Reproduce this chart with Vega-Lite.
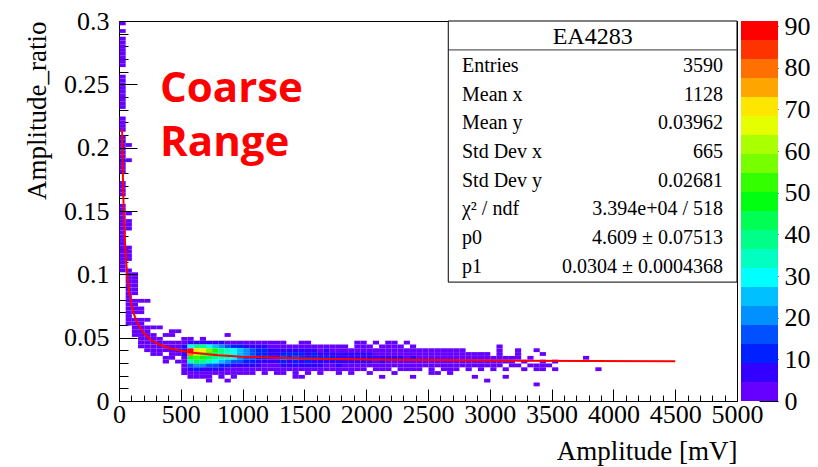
{
  "$schema": "https://vega.github.io/schema/vega-lite/v6.json",
  "background": "white",
  "padding": {"left": 22, "top": 7, "right": 2, "bottom": 2},
  "spacing": 4,
  "bounds": "flush",
  "config": {
    "view": {"stroke": null},
    "font": "Liberation Serif",
    "text": {"font": "Liberation Serif", "color": "#000"}
  },
  "hconcat": [
    {
      "width": 618,
      "height": 380,
      "view": {"stroke": "#000", "strokeWidth": 1},
      "layer": [
        {
          "data": {"values": [
            {"amp":25,"ratio":0.2985,"n":3},{"amp":25,"ratio":0.2925,"n":1},{"amp":25,"ratio":0.2865,"n":4},{"amp":25,"ratio":0.2835,"n":3},
            {"amp":25,"ratio":0.2805,"n":4},{"amp":25,"ratio":0.2775,"n":3},{"amp":25,"ratio":0.2745,"n":2},{"amp":25,"ratio":0.2715,"n":3},
            {"amp":25,"ratio":0.2685,"n":4},{"amp":25,"ratio":0.2655,"n":2},{"amp":25,"ratio":0.2565,"n":3},{"amp":25,"ratio":0.2535,"n":4},
            {"amp":25,"ratio":0.2505,"n":3},{"amp":25,"ratio":0.2475,"n":4},{"amp":25,"ratio":0.2445,"n":3},{"amp":25,"ratio":0.2415,"n":2},
            {"amp":25,"ratio":0.2385,"n":3},{"amp":25,"ratio":0.2355,"n":4},{"amp":25,"ratio":0.2325,"n":2},{"amp":25,"ratio":0.2235,"n":3},
            {"amp":25,"ratio":0.2205,"n":4},{"amp":25,"ratio":0.2175,"n":3},{"amp":25,"ratio":0.2145,"n":2},{"amp":25,"ratio":0.2085,"n":4},
            {"amp":25,"ratio":0.2055,"n":5},{"amp":25,"ratio":0.2025,"n":3},{"amp":25,"ratio":0.1995,"n":4},{"amp":25,"ratio":0.1965,"n":3},
            {"amp":25,"ratio":0.1935,"n":4},{"amp":25,"ratio":0.1905,"n":5},{"amp":25,"ratio":0.1875,"n":3},{"amp":25,"ratio":0.1845,"n":4},
            {"amp":25,"ratio":0.1815,"n":2},{"amp":25,"ratio":0.1725,"n":3},{"amp":25,"ratio":0.1695,"n":4},{"amp":25,"ratio":0.1665,"n":3},
            {"amp":25,"ratio":0.1635,"n":2},{"amp":25,"ratio":0.1545,"n":3},{"amp":25,"ratio":0.1515,"n":4},{"amp":25,"ratio":0.1485,"n":3},
            {"amp":25,"ratio":0.1455,"n":2},{"amp":25,"ratio":0.1425,"n":3},{"amp":25,"ratio":0.1395,"n":4},{"amp":25,"ratio":0.1365,"n":3},
            {"amp":25,"ratio":0.1335,"n":2},{"amp":25,"ratio":0.1305,"n":4},{"amp":25,"ratio":0.1275,"n":3},{"amp":25,"ratio":0.1245,"n":2},
            {"amp":25,"ratio":0.1215,"n":3},{"amp":25,"ratio":0.1185,"n":4},{"amp":25,"ratio":0.1155,"n":3},{"amp":25,"ratio":0.1125,"n":2},
            {"amp":25,"ratio":0.1095,"n":3},{"amp":25,"ratio":0.1065,"n":2},{"amp":25,"ratio":0.1035,"n":3},

            {"amp":75,"ratio":0.2025,"n":3},{"amp":75,"ratio":0.1905,"n":4},{"amp":75,"ratio":0.1485,"n":2},{"amp":75,"ratio":0.1425,"n":2},
            {"amp":75,"ratio":0.1395,"n":3},{"amp":75,"ratio":0.1365,"n":2},{"amp":75,"ratio":0.1215,"n":2},{"amp":75,"ratio":0.1185,"n":3},
            {"amp":75,"ratio":0.1155,"n":2},{"amp":75,"ratio":0.1125,"n":2},{"amp":75,"ratio":0.1035,"n":3},{"amp":75,"ratio":0.1005,"n":4},
            {"amp":75,"ratio":0.0975,"n":3},{"amp":75,"ratio":0.0945,"n":4},{"amp":75,"ratio":0.0915,"n":3},{"amp":75,"ratio":0.0885,"n":2},
            {"amp":75,"ratio":0.0855,"n":3},{"amp":75,"ratio":0.0825,"n":2},{"amp":75,"ratio":0.0795,"n":3},{"amp":75,"ratio":0.0765,"n":4},
            {"amp":75,"ratio":0.0735,"n":3},{"amp":75,"ratio":0.0705,"n":2},{"amp":75,"ratio":0.0675,"n":3},{"amp":75,"ratio":0.0645,"n":2},
            {"amp":75,"ratio":0.0615,"n":2},

            {"amp":125,"ratio":0.1005,"n":2},{"amp":125,"ratio":0.0975,"n":3},{"amp":125,"ratio":0.0945,"n":2},{"amp":125,"ratio":0.0915,"n":3},
            {"amp":125,"ratio":0.0885,"n":4},{"amp":125,"ratio":0.0855,"n":3},{"amp":125,"ratio":0.0795,"n":3},{"amp":125,"ratio":0.0765,"n":2},
            {"amp":125,"ratio":0.0735,"n":3},{"amp":125,"ratio":0.0705,"n":2},{"amp":125,"ratio":0.0645,"n":2},{"amp":125,"ratio":0.0615,"n":3},
            {"amp":125,"ratio":0.0585,"n":2},{"amp":125,"ratio":0.0555,"n":3},{"amp":125,"ratio":0.0525,"n":2},

            {"amp":175,"ratio":0.0795,"n":2},{"amp":175,"ratio":0.0735,"n":2},{"amp":175,"ratio":0.0705,"n":3},{"amp":175,"ratio":0.0645,"n":3},
            {"amp":175,"ratio":0.0615,"n":3},{"amp":175,"ratio":0.0585,"n":2},{"amp":175,"ratio":0.0555,"n":3},{"amp":175,"ratio":0.0525,"n":2},
            {"amp":175,"ratio":0.0495,"n":3},{"amp":175,"ratio":0.0465,"n":2},{"amp":175,"ratio":0.0435,"n":2},

            {"amp":225,"ratio":0.0795,"n":2},{"amp":225,"ratio":0.0645,"n":2},{"amp":225,"ratio":0.0585,"n":3},{"amp":225,"ratio":0.0555,"n":3},
            {"amp":225,"ratio":0.0525,"n":4},{"amp":225,"ratio":0.0495,"n":3},{"amp":225,"ratio":0.0465,"n":4},{"amp":225,"ratio":0.0435,"n":3},
            {"amp":225,"ratio":0.0405,"n":2},

            {"amp":275,"ratio":0.0585,"n":2},{"amp":275,"ratio":0.0525,"n":3},{"amp":275,"ratio":0.0495,"n":3},{"amp":275,"ratio":0.0465,"n":3},
            {"amp":275,"ratio":0.0435,"n":4},{"amp":275,"ratio":0.0405,"n":3},{"amp":275,"ratio":0.0375,"n":2},

            {"amp":325,"ratio":0.0585,"n":2},{"amp":325,"ratio":0.0495,"n":3},{"amp":325,"ratio":0.0465,"n":4},{"amp":325,"ratio":0.0435,"n":3},
            {"amp":325,"ratio":0.0405,"n":3},{"amp":325,"ratio":0.0375,"n":2},

            {"amp":375,"ratio":0.0525,"n":2},{"amp":375,"ratio":0.0465,"n":3},{"amp":375,"ratio":0.0435,"n":3},{"amp":375,"ratio":0.0405,"n":4},
            {"amp":375,"ratio":0.0345,"n":2},{"amp":375,"ratio":0.0315,"n":2},

            {"amp":425,"ratio":0.0555,"n":2},{"amp":425,"ratio":0.0525,"n":3},{"amp":425,"ratio":0.0465,"n":3},{"amp":425,"ratio":0.0435,"n":4},
            {"amp":425,"ratio":0.0405,"n":4},{"amp":425,"ratio":0.0375,"n":3},{"amp":425,"ratio":0.0345,"n":2},

            {"amp":475,"ratio":0.0555,"n":2},{"amp":475,"ratio":0.0465,"n":3},{"amp":475,"ratio":0.0435,"n":4},{"amp":475,"ratio":0.0405,"n":5},
            {"amp":475,"ratio":0.0375,"n":3},{"amp":475,"ratio":0.0315,"n":2},

            {"amp":525,"ratio":0.0495,"n":2},{"amp":525,"ratio":0.0465,"n":4},{"amp":525,"ratio":0.0435,"n":5},{"amp":525,"ratio":0.0405,"n":6},
            {"amp":525,"ratio":0.0375,"n":5},{"amp":525,"ratio":0.0345,"n":4},{"amp":525,"ratio":0.0315,"n":3},{"amp":525,"ratio":0.0285,"n":3},
            {"amp":525,"ratio":0.0255,"n":2},{"amp":525,"ratio":0.0225,"n":2},

            {"amp":575,"ratio":0.0495,"n":2},{"amp":575,"ratio":0.0465,"n":6},{"amp":575,"ratio":0.0435,"n":28},{"amp":575,"ratio":0.0405,"n":90},
            {"amp":575,"ratio":0.0375,"n":80},{"amp":575,"ratio":0.0345,"n":50},{"amp":575,"ratio":0.0315,"n":36},{"amp":575,"ratio":0.0285,"n":18},
            {"amp":575,"ratio":0.0255,"n":8},{"amp":575,"ratio":0.0225,"n":4},{"amp":575,"ratio":0.0195,"n":2},

            {"amp":625,"ratio":0.0465,"n":9},{"amp":625,"ratio":0.0435,"n":40},{"amp":625,"ratio":0.0405,"n":72},{"amp":625,"ratio":0.0375,"n":62},
            {"amp":625,"ratio":0.0345,"n":52},{"amp":625,"ratio":0.0315,"n":42},{"amp":625,"ratio":0.0285,"n":22},{"amp":625,"ratio":0.0255,"n":10},
            {"amp":625,"ratio":0.0225,"n":4},{"amp":625,"ratio":0.0195,"n":1},

            {"amp":675,"ratio":0.0495,"n":1},{"amp":675,"ratio":0.0465,"n":8},{"amp":675,"ratio":0.0435,"n":38},{"amp":675,"ratio":0.0405,"n":66},
            {"amp":675,"ratio":0.0375,"n":56},{"amp":675,"ratio":0.0345,"n":48},{"amp":675,"ratio":0.0315,"n":40},{"amp":675,"ratio":0.0285,"n":20},
            {"amp":675,"ratio":0.0255,"n":9},{"amp":675,"ratio":0.0225,"n":3},{"amp":675,"ratio":0.0195,"n":1},

            {"amp":725,"ratio":0.0465,"n":7},{"amp":725,"ratio":0.0435,"n":30},{"amp":725,"ratio":0.0405,"n":58},{"amp":725,"ratio":0.0375,"n":52},
            {"amp":725,"ratio":0.0345,"n":44},{"amp":725,"ratio":0.0315,"n":34},{"amp":725,"ratio":0.0285,"n":16},{"amp":725,"ratio":0.0255,"n":7},
            {"amp":725,"ratio":0.0225,"n":3},{"amp":725,"ratio":0.0195,"n":1},{"amp":725,"ratio":0.0165,"n":1},

            {"amp":775,"ratio":0.0465,"n":6},{"amp":775,"ratio":0.0435,"n":24},{"amp":775,"ratio":0.0405,"n":48},{"amp":775,"ratio":0.0375,"n":45},
            {"amp":775,"ratio":0.0345,"n":40},{"amp":775,"ratio":0.0315,"n":30},{"amp":775,"ratio":0.0285,"n":14},{"amp":775,"ratio":0.0255,"n":6},
            {"amp":775,"ratio":0.0225,"n":2},

            {"amp":825,"ratio":0.0465,"n":5},{"amp":825,"ratio":0.0435,"n":20},{"amp":825,"ratio":0.0405,"n":40},{"amp":825,"ratio":0.0375,"n":38},
            {"amp":825,"ratio":0.0345,"n":36},{"amp":825,"ratio":0.0315,"n":26},{"amp":825,"ratio":0.0285,"n":12},{"amp":825,"ratio":0.0255,"n":5},
            {"amp":825,"ratio":0.0225,"n":2},{"amp":825,"ratio":0.0195,"n":1},

            {"amp":875,"ratio":0.0525,"n":1},{"amp":875,"ratio":0.0465,"n":4},{"amp":875,"ratio":0.0435,"n":16},{"amp":875,"ratio":0.0405,"n":36},
            {"amp":875,"ratio":0.0375,"n":34},{"amp":875,"ratio":0.0345,"n":33},{"amp":875,"ratio":0.0315,"n":22},{"amp":875,"ratio":0.0285,"n":10},
            {"amp":875,"ratio":0.0255,"n":4},{"amp":875,"ratio":0.0225,"n":1},{"amp":875,"ratio":0.0165,"n":1},

            {"amp":925,"ratio":0.0465,"n":3},{"amp":925,"ratio":0.0435,"n":13},{"amp":925,"ratio":0.0405,"n":30},{"amp":925,"ratio":0.0375,"n":28},
            {"amp":925,"ratio":0.0345,"n":28},{"amp":925,"ratio":0.0315,"n":18},{"amp":925,"ratio":0.0285,"n":8},{"amp":925,"ratio":0.0255,"n":4},
            {"amp":925,"ratio":0.0225,"n":1},{"amp":925,"ratio":0.0195,"n":1},

            {"amp":975,"ratio":0.0465,"n":3},{"amp":975,"ratio":0.0435,"n":10},{"amp":975,"ratio":0.0405,"n":25},{"amp":975,"ratio":0.0375,"n":24},
            {"amp":975,"ratio":0.0345,"n":22},{"amp":975,"ratio":0.0315,"n":15},{"amp":975,"ratio":0.0285,"n":7},{"amp":975,"ratio":0.0255,"n":3},
            {"amp":975,"ratio":0.0225,"n":1},

            {"amp":1025,"ratio":0.0465,"n":2},{"amp":1025,"ratio":0.0435,"n":8},{"amp":1025,"ratio":0.0405,"n":20},{"amp":1025,"ratio":0.0375,"n":19},
            {"amp":1025,"ratio":0.0345,"n":18},{"amp":1025,"ratio":0.0315,"n":12},{"amp":1025,"ratio":0.0285,"n":6},{"amp":1025,"ratio":0.0255,"n":3},
            {"amp":1025,"ratio":0.0225,"n":1},

            {"amp":1075,"ratio":0.0465,"n":2},{"amp":1075,"ratio":0.0435,"n":7},{"amp":1075,"ratio":0.0405,"n":16},{"amp":1075,"ratio":0.0375,"n":15},
            {"amp":1075,"ratio":0.0345,"n":14},{"amp":1075,"ratio":0.0315,"n":10},{"amp":1075,"ratio":0.0285,"n":5},{"amp":1075,"ratio":0.0255,"n":2},
            {"amp":1075,"ratio":0.0225,"n":1},

            {"amp":1125,"ratio":0.0465,"n":1},{"amp":1125,"ratio":0.0435,"n":6},{"amp":1125,"ratio":0.0405,"n":13},{"amp":1125,"ratio":0.0375,"n":12},
            {"amp":1125,"ratio":0.0345,"n":12},{"amp":1125,"ratio":0.0315,"n":9},{"amp":1125,"ratio":0.0285,"n":5},{"amp":1125,"ratio":0.0255,"n":2},

            {"amp":1175,"ratio":0.0465,"n":2},{"amp":1175,"ratio":0.0435,"n":5},{"amp":1175,"ratio":0.0405,"n":11},{"amp":1175,"ratio":0.0375,"n":10},
            {"amp":1175,"ratio":0.0345,"n":10},{"amp":1175,"ratio":0.0315,"n":8},{"amp":1175,"ratio":0.0285,"n":4},{"amp":1175,"ratio":0.0255,"n":2},
            {"amp":1175,"ratio":0.0225,"n":1},

            {"amp":1225,"ratio":0.0465,"n":1},{"amp":1225,"ratio":0.0435,"n":4},{"amp":1225,"ratio":0.0405,"n":9},{"amp":1225,"ratio":0.0375,"n":8},
            {"amp":1225,"ratio":0.0345,"n":8},{"amp":1225,"ratio":0.0315,"n":6},{"amp":1225,"ratio":0.0285,"n":3},{"amp":1225,"ratio":0.0255,"n":2},

            {"amp":1275,"ratio":0.0465,"n":1},{"amp":1275,"ratio":0.0435,"n":4},{"amp":1275,"ratio":0.0405,"n":7},{"amp":1275,"ratio":0.0375,"n":7},
            {"amp":1275,"ratio":0.0345,"n":7},{"amp":1275,"ratio":0.0315,"n":5},{"amp":1275,"ratio":0.0285,"n":3},{"amp":1275,"ratio":0.0255,"n":1},
            {"amp":1275,"ratio":0.0225,"n":1},

            {"amp":1325,"ratio":0.0225,"n":1},{"amp":1325,"ratio":0.0255,"n":3},{"amp":1325,"ratio":0.0285,"n":6},{"amp":1325,"ratio":0.0315,"n":10},
            {"amp":1325,"ratio":0.0345,"n":14},{"amp":1325,"ratio":0.0375,"n":12},{"amp":1325,"ratio":0.0405,"n":8},{"amp":1325,"ratio":0.0435,"n":4},
            {"amp":1325,"ratio":0.0465,"n":1},
            {"amp":1375,"ratio":0.0255,"n":2},{"amp":1375,"ratio":0.0285,"n":5},{"amp":1375,"ratio":0.0315,"n":9},{"amp":1375,"ratio":0.0345,"n":12},
            {"amp":1375,"ratio":0.0375,"n":11},{"amp":1375,"ratio":0.0405,"n":7},{"amp":1375,"ratio":0.0435,"n":3},
            {"amp":1425,"ratio":0.0195,"n":1},{"amp":1425,"ratio":0.0225,"n":2},{"amp":1425,"ratio":0.0255,"n":3},{"amp":1425,"ratio":0.0285,"n":7},
            {"amp":1425,"ratio":0.0315,"n":11},{"amp":1425,"ratio":0.0345,"n":15},{"amp":1425,"ratio":0.0375,"n":10},{"amp":1425,"ratio":0.0405,"n":6},
            {"amp":1425,"ratio":0.0435,"n":2},
            {"amp":1475,"ratio":0.0195,"n":1},{"amp":1475,"ratio":0.0255,"n":2},{"amp":1475,"ratio":0.0285,"n":6},{"amp":1475,"ratio":0.0315,"n":9},
            {"amp":1475,"ratio":0.0345,"n":12},{"amp":1475,"ratio":0.0375,"n":13},{"amp":1475,"ratio":0.0405,"n":7},{"amp":1475,"ratio":0.0435,"n":3},
            {"amp":1475,"ratio":0.0465,"n":2},
            {"amp":1525,"ratio":0.0225,"n":1},{"amp":1525,"ratio":0.0255,"n":3},{"amp":1525,"ratio":0.0285,"n":5},{"amp":1525,"ratio":0.0315,"n":10},
            {"amp":1525,"ratio":0.0345,"n":13},{"amp":1525,"ratio":0.0375,"n":9},{"amp":1525,"ratio":0.0405,"n":6},{"amp":1525,"ratio":0.0435,"n":2},
            {"amp":1525,"ratio":0.0465,"n":1},
            {"amp":1575,"ratio":0.0255,"n":2},{"amp":1575,"ratio":0.0285,"n":6},{"amp":1575,"ratio":0.0315,"n":8},{"amp":1575,"ratio":0.0345,"n":11},
            {"amp":1575,"ratio":0.0375,"n":10},{"amp":1575,"ratio":0.0405,"n":5},{"amp":1575,"ratio":0.0435,"n":3},
            {"amp":1625,"ratio":0.0225,"n":2},{"amp":1625,"ratio":0.0255,"n":3},{"amp":1625,"ratio":0.0285,"n":5},{"amp":1625,"ratio":0.0315,"n":9},
            {"amp":1625,"ratio":0.0345,"n":12},{"amp":1625,"ratio":0.0375,"n":8},{"amp":1625,"ratio":0.0405,"n":4},{"amp":1625,"ratio":0.0435,"n":2},
            {"amp":1675,"ratio":0.0255,"n":2},{"amp":1675,"ratio":0.0285,"n":4},{"amp":1675,"ratio":0.0315,"n":8},{"amp":1675,"ratio":0.0345,"n":10},
            {"amp":1675,"ratio":0.0375,"n":9},{"amp":1675,"ratio":0.0405,"n":5},{"amp":1675,"ratio":0.0435,"n":2},
            {"amp":1725,"ratio":0.0255,"n":1},{"amp":1725,"ratio":0.0285,"n":4},{"amp":1725,"ratio":0.0315,"n":7},{"amp":1725,"ratio":0.0345,"n":11},
            {"amp":1725,"ratio":0.0375,"n":7},{"amp":1725,"ratio":0.0405,"n":4},{"amp":1725,"ratio":0.0435,"n":1},
            {"amp":1775,"ratio":0.0225,"n":1},{"amp":1775,"ratio":0.0255,"n":2},{"amp":1775,"ratio":0.0285,"n":5},{"amp":1775,"ratio":0.0315,"n":6},
            {"amp":1775,"ratio":0.0345,"n":9},{"amp":1775,"ratio":0.0375,"n":8},{"amp":1775,"ratio":0.0405,"n":3},{"amp":1775,"ratio":0.0435,"n":2},
            {"amp":1825,"ratio":0.0255,"n":2},{"amp":1825,"ratio":0.0285,"n":3},{"amp":1825,"ratio":0.0315,"n":7},{"amp":1825,"ratio":0.0345,"n":8},
            {"amp":1825,"ratio":0.0375,"n":6},{"amp":1825,"ratio":0.0405,"n":4},{"amp":1825,"ratio":0.0435,"n":1},
            {"amp":1875,"ratio":0.0225,"n":1},{"amp":1875,"ratio":0.0255,"n":1},{"amp":1875,"ratio":0.0285,"n":4},{"amp":1875,"ratio":0.0315,"n":6},
            {"amp":1875,"ratio":0.0345,"n":9},{"amp":1875,"ratio":0.0375,"n":5},{"amp":1875,"ratio":0.0405,"n":3},
            {"amp":1925,"ratio":0.0255,"n":2},{"amp":1925,"ratio":0.0285,"n":3},{"amp":1925,"ratio":0.0315,"n":5},{"amp":1925,"ratio":0.0345,"n":7},
            {"amp":1925,"ratio":0.0375,"n":6},{"amp":1925,"ratio":0.0405,"n":3},{"amp":1925,"ratio":0.0435,"n":2},{"amp":1925,"ratio":0.0465,"n":1},
            {"amp":1975,"ratio":0.0255,"n":1},{"amp":1975,"ratio":0.0285,"n":4},{"amp":1975,"ratio":0.0315,"n":6},{"amp":1975,"ratio":0.0345,"n":8},
            {"amp":1975,"ratio":0.0375,"n":5},{"amp":1975,"ratio":0.0405,"n":2},{"amp":1975,"ratio":0.0435,"n":1},{"amp":1975,"ratio":0.0465,"n":1},
            {"amp":2025,"ratio":0.0225,"n":1},{"amp":2025,"ratio":0.0285,"n":3},{"amp":2025,"ratio":0.0315,"n":5},{"amp":2025,"ratio":0.0345,"n":6},
            {"amp":2025,"ratio":0.0375,"n":5},{"amp":2025,"ratio":0.0405,"n":3},{"amp":2025,"ratio":0.0435,"n":2},
            {"amp":2075,"ratio":0.0255,"n":2},{"amp":2075,"ratio":0.0285,"n":2},{"amp":2075,"ratio":0.0315,"n":4},{"amp":2075,"ratio":0.0345,"n":7},
            {"amp":2075,"ratio":0.0375,"n":4},{"amp":2075,"ratio":0.0405,"n":2},{"amp":2075,"ratio":0.0465,"n":1},
            {"amp":2125,"ratio":0.0195,"n":1},{"amp":2125,"ratio":0.0255,"n":1},{"amp":2125,"ratio":0.0285,"n":3},{"amp":2125,"ratio":0.0315,"n":5},
            {"amp":2125,"ratio":0.0345,"n":6},{"amp":2125,"ratio":0.0375,"n":4},{"amp":2125,"ratio":0.0405,"n":2},{"amp":2125,"ratio":0.0435,"n":1},
            {"amp":2175,"ratio":0.0255,"n":1},{"amp":2175,"ratio":0.0285,"n":3},{"amp":2175,"ratio":0.0315,"n":4},{"amp":2175,"ratio":0.0345,"n":5},
            {"amp":2175,"ratio":0.0375,"n":4},{"amp":2175,"ratio":0.0405,"n":2},{"amp":2175,"ratio":0.0435,"n":1},{"amp":2175,"ratio":0.0465,"n":1},
            {"amp":2225,"ratio":0.0225,"n":1},{"amp":2225,"ratio":0.0285,"n":2},{"amp":2225,"ratio":0.0315,"n":4},{"amp":2225,"ratio":0.0345,"n":6},
            {"amp":2225,"ratio":0.0375,"n":3},{"amp":2225,"ratio":0.0405,"n":2},{"amp":2225,"ratio":0.0435,"n":1},{"amp":2225,"ratio":0.0465,"n":1},
            {"amp":2275,"ratio":0.0255,"n":1},{"amp":2275,"ratio":0.0285,"n":2},{"amp":2275,"ratio":0.0315,"n":3},{"amp":2275,"ratio":0.0345,"n":5},
            {"amp":2275,"ratio":0.0375,"n":4},{"amp":2275,"ratio":0.0405,"n":1},{"amp":2275,"ratio":0.0435,"n":1},
            {"amp":2325,"ratio":0.0255,"n":2},{"amp":2325,"ratio":0.0285,"n":2},{"amp":2325,"ratio":0.0315,"n":4},{"amp":2325,"ratio":0.0345,"n":4},
            {"amp":2325,"ratio":0.0375,"n":3},{"amp":2325,"ratio":0.0405,"n":2},{"amp":2325,"ratio":0.0465,"n":1},
            {"amp":2375,"ratio":0.0195,"n":1},{"amp":2375,"ratio":0.0255,"n":1},{"amp":2375,"ratio":0.0285,"n":3},{"amp":2375,"ratio":0.0315,"n":3},
            {"amp":2375,"ratio":0.0345,"n":5},{"amp":2375,"ratio":0.0375,"n":3},{"amp":2375,"ratio":0.0405,"n":1},{"amp":2375,"ratio":0.0435,"n":1},
            {"amp":2425,"ratio":0.0255,"n":1},{"amp":2425,"ratio":0.0285,"n":2},{"amp":2425,"ratio":0.0315,"n":3},{"amp":2425,"ratio":0.0345,"n":4},
            {"amp":2425,"ratio":0.0375,"n":2},{"amp":2425,"ratio":0.0405,"n":2},
            {"amp":2475,"ratio":0.0285,"n":2},{"amp":2475,"ratio":0.0315,"n":3},{"amp":2475,"ratio":0.0345,"n":4},{"amp":2475,"ratio":0.0375,"n":2},
            {"amp":2475,"ratio":0.0405,"n":1},
            {"amp":2525,"ratio":0.0225,"n":1},{"amp":2525,"ratio":0.0255,"n":1},{"amp":2525,"ratio":0.0285,"n":2},{"amp":2525,"ratio":0.0315,"n":3},
            {"amp":2525,"ratio":0.0345,"n":3},{"amp":2525,"ratio":0.0375,"n":2},{"amp":2525,"ratio":0.0405,"n":1},
            {"amp":2575,"ratio":0.0225,"n":1},{"amp":2575,"ratio":0.0285,"n":1},{"amp":2575,"ratio":0.0315,"n":2},{"amp":2575,"ratio":0.0345,"n":4},
            {"amp":2575,"ratio":0.0375,"n":2},{"amp":2575,"ratio":0.0405,"n":2},
            {"amp":2625,"ratio":0.0255,"n":1},{"amp":2625,"ratio":0.0285,"n":2},{"amp":2625,"ratio":0.0315,"n":3},{"amp":2625,"ratio":0.0345,"n":3},
            {"amp":2625,"ratio":0.0375,"n":1},{"amp":2625,"ratio":0.0405,"n":1},
            {"amp":2675,"ratio":0.0225,"n":1},{"amp":2675,"ratio":0.0255,"n":1},{"amp":2675,"ratio":0.0285,"n":2},{"amp":2675,"ratio":0.0315,"n":2},
            {"amp":2675,"ratio":0.0345,"n":3},{"amp":2675,"ratio":0.0375,"n":2},{"amp":2675,"ratio":0.0405,"n":1},
            {"amp":2725,"ratio":0.0255,"n":1},{"amp":2725,"ratio":0.0285,"n":1},{"amp":2725,"ratio":0.0315,"n":3},{"amp":2725,"ratio":0.0345,"n":2},
            {"amp":2725,"ratio":0.0375,"n":2},{"amp":2725,"ratio":0.0405,"n":1},
            {"amp":2775,"ratio":0.0285,"n":2},{"amp":2775,"ratio":0.0315,"n":2},{"amp":2775,"ratio":0.0345,"n":3},{"amp":2775,"ratio":0.0375,"n":1},
            {"amp":2775,"ratio":0.0405,"n":1},
            {"amp":2825,"ratio":0.0255,"n":1},{"amp":2825,"ratio":0.0285,"n":1},{"amp":2825,"ratio":0.0315,"n":2},{"amp":2825,"ratio":0.0345,"n":2},
            {"amp":2825,"ratio":0.0375,"n":2},
            {"amp":2875,"ratio":0.0195,"n":1},{"amp":2875,"ratio":0.0285,"n":1},{"amp":2875,"ratio":0.0315,"n":2},{"amp":2875,"ratio":0.0345,"n":3},
            {"amp":2875,"ratio":0.0375,"n":1},
            {"amp":2925,"ratio":0.0255,"n":1},{"amp":2925,"ratio":0.0285,"n":2},{"amp":2925,"ratio":0.0315,"n":1},{"amp":2925,"ratio":0.0345,"n":2},
            {"amp":2925,"ratio":0.0375,"n":1},
            {"amp":2975,"ratio":0.0165,"n":1},{"amp":2975,"ratio":0.0285,"n":1},{"amp":2975,"ratio":0.0315,"n":2},{"amp":2975,"ratio":0.0345,"n":1},
            {"amp":2975,"ratio":0.0375,"n":1},
            {"amp":3025,"ratio":0.0255,"n":1},{"amp":3025,"ratio":0.0285,"n":1},{"amp":3025,"ratio":0.0315,"n":1},{"amp":3025,"ratio":0.0345,"n":2},
            {"amp":3075,"ratio":0.0285,"n":1},{"amp":3075,"ratio":0.0315,"n":1},{"amp":3075,"ratio":0.0345,"n":1},{"amp":3075,"ratio":0.0375,"n":1},
            {"amp":3075,"ratio":0.0405,"n":1},{"amp":3075,"ratio":0.0435,"n":1},
            {"amp":3125,"ratio":0.0195,"n":1},{"amp":3125,"ratio":0.0255,"n":1},{"amp":3125,"ratio":0.0315,"n":1},{"amp":3125,"ratio":0.0345,"n":1},
            {"amp":3175,"ratio":0.0285,"n":1},{"amp":3175,"ratio":0.0315,"n":1},{"amp":3175,"ratio":0.0345,"n":1},
            {"amp":3225,"ratio":0.0285,"n":1},{"amp":3225,"ratio":0.0345,"n":1},{"amp":3225,"ratio":0.0375,"n":1},{"amp":3225,"ratio":0.0405,"n":1},
            {"amp":3275,"ratio":0.0255,"n":1},{"amp":3275,"ratio":0.0315,"n":1},
            {"amp":3325,"ratio":0.0285,"n":1},{"amp":3325,"ratio":0.0345,"n":1},
            {"amp":3375,"ratio":0.0135,"n":1},{"amp":3375,"ratio":0.0255,"n":1},{"amp":3375,"ratio":0.0285,"n":1},{"amp":3375,"ratio":0.0405,"n":1},
            {"amp":3425,"ratio":0.0255,"n":1},{"amp":3425,"ratio":0.0285,"n":1},{"amp":3425,"ratio":0.0315,"n":1},{"amp":3425,"ratio":0.0375,"n":1},
            {"amp":3475,"ratio":0.0285,"n":1},
            {"amp":3525,"ratio":0.0255,"n":1},{"amp":3525,"ratio":0.0315,"n":1},
            {"amp":3775,"ratio":0.0345,"n":1},
            {"amp":3875,"ratio":0.0255,"n":1}
          ]},
          "mark": {"type": "rect", "strokeWidth": 0},
          "encoding": {
            "x": {
              "field": "amp", "type": "quantitative",
              "bin": {"extent": [0, 5000], "step": 50},
              "scale": {"domain": [0, 5000], "nice": false, "zero": false},
              "axis": {
                "orient": "bottom",
                "values": [0, 500, 1000, 1500, 2000, 2500, 3000, 3500, 4000, 4500, 5000],
                "format": "d",
                "title": "Amplitude [mV]", "titleAnchor": "end", "titleFont": "Liberation Serif",
                "titleFontSize": 27, "titleFontWeight": "normal", "titleColor": "#000", "titlePadding": 11,
                "labelFont": "Liberation Serif", "labelFontSize": 26, "labelColor": "#000",
                "labelPadding": 12, "labelOverlap": false, "labelFlush": false, "labelBound": false,
                "tickSize": -12, "tickColor": "#000", "tickWidth": 1, "domain": false, "grid": false
              }
            },
            "y": {
              "field": "ratio", "type": "quantitative",
              "bin": {"extent": [0, 0.3], "step": 0.003},
              "scale": {"domain": [0, 0.3], "nice": false, "zero": false},
              "axis": {
                "orient": "left",
                "values": [0, 0.05, 0.1, 0.15, 0.2, 0.25, 0.3],
                "format": "~g",
                "title": "Amplitude_ratio", "titleAnchor": "end", "titleFont": "Liberation Serif",
                "titleFontSize": 27, "titleFontWeight": "normal", "titleColor": "#000", "titlePadding": 12,
                "labelFont": "Liberation Serif", "labelFontSize": 26, "labelColor": "#000",
                "labelPadding": 28, "labelOverlap": false, "labelFlush": false, "labelBound": false,
                "tickSize": -18, "tickColor": "#000", "tickWidth": 1, "domain": false, "grid": false
              }
            },
            "color": {
              "field": "n", "type": "quantitative",
              "scale": {
                "type": "threshold",
                "domain": [4.56, 9.12, 13.68, 18.24, 22.8, 27.36, 31.92, 36.48, 41.04, 45.6, 50.16, 54.72, 59.28, 63.84, 68.4, 72.96, 77.52, 82.08, 86.64],
                "range": ["#6600ff", "#3300ff", "#0020ff", "#0050ff", "#0090ff", "#00c0ff", "#00ffff", "#00ffc0", "#00ff88", "#00ff55", "#00ff10", "#33ff00", "#77ff00", "#aaff00", "#e6ff00", "#ffe600", "#ffa500", "#ff7000", "#ff3300", "#ff0000"]
              },
              "legend": null
            }
          }
        },
        {
          "data": {"values": [
            {"amp": 25, "fit": 0.2148}, {"amp": 30, "fit": 0.1840}, {"amp": 35, "fit": 0.1621}, {"amp": 40, "fit": 0.1456},
            {"amp": 50, "fit": 0.1226}, {"amp": 60, "fit": 0.1072}, {"amp": 70, "fit": 0.0962}, {"amp": 80, "fit": 0.0880},
            {"amp": 100, "fit": 0.0765}, {"amp": 120, "fit": 0.0688}, {"amp": 150, "fit": 0.0611}, {"amp": 200, "fit": 0.0535},
            {"amp": 250, "fit": 0.0488}, {"amp": 300, "fit": 0.0458}, {"amp": 400, "fit": 0.0419}, {"amp": 500, "fit": 0.0396},
            {"amp": 600, "fit": 0.0381}, {"amp": 800, "fit": 0.0362}, {"amp": 1000, "fit": 0.0350}, {"amp": 1500, "fit": 0.0335},
            {"amp": 2000, "fit": 0.0327}, {"amp": 3000, "fit": 0.0319}, {"amp": 4500, "fit": 0.0314}
          ]},
          "mark": {"type": "line", "color": "#ff0000", "strokeWidth": 2},
          "encoding": {
            "x": {
              "field": "amp", "type": "quantitative",
              "scale": {"domain": [0, 5000], "nice": false, "zero": false},
              "axis": {
                "orient": "bottom",
                "values": [100, 200, 300, 400, 600, 700, 800, 900, 1100, 1200, 1300, 1400, 1600, 1700, 1800, 1900, 2100, 2200, 2300, 2400, 2600, 2700, 2800, 2900, 3100, 3200, 3300, 3400, 3600, 3700, 3800, 3900, 4100, 4200, 4300, 4400, 4600, 4700, 4800, 4900],
                "labels": false, "domain": false, "grid": false, "title": null,
                "tickSize": -6, "tickColor": "#000", "tickWidth": 1
              }
            },
            "y": {
              "field": "fit", "type": "quantitative",
              "scale": {"domain": [0, 0.3], "nice": false, "zero": false},
              "axis": {
                "orient": "left",
                "values": [0.01, 0.02, 0.03, 0.04, 0.06, 0.07, 0.08, 0.09, 0.11, 0.12, 0.13, 0.14, 0.16, 0.17, 0.18, 0.19, 0.21, 0.22, 0.23, 0.24, 0.26, 0.27, 0.28, 0.29],
                "labels": false, "domain": false, "grid": false, "title": null,
                "tickSize": -9, "tickColor": "#000", "tickWidth": 1
              }
            }
          }
        },
        {
          "data": {"values": [{"label": "Coarse\nRange"}]},
          "mark": {"type": "text", "font": "Open Sans", "fontWeight": "bold", "fontSize": 42, "color": "#ff0000", "align": "left", "baseline": "alphabetic", "lineBreak": "\n", "lineHeight": 54},
          "encoding": {
            "text": {"field": "label"},
            "x": {"datum": 332, "type": "quantitative", "scale": {"domain": [0, 5000], "nice": false, "zero": false}, "axis": null},
            "y": {"datum": 0.2364, "type": "quantitative", "scale": {"domain": [0, 0.3], "nice": false, "zero": false}, "axis": null}
          }
        },
        {
          "layer": [
            {
              "data": {"values": [{"name": "EA4283"}]},
              "mark": {"type": "rect", "fill": "#ffffff", "stroke": "#000", "strokeWidth": 1},
              "encoding": {
                "x": {"datum": 2664, "type": "quantitative", "scale": {"domain": [0, 5000], "nice": false, "zero": false}, "axis": null},
                "x2": {"datum": 5000},
                "y": {"datum": -0.568, "type": "quantitative", "scale": {"domain": [-0.568, 12.673], "reverse": true, "nice": false, "zero": false}, "axis": null},
                "y2": {"datum": 8.53}
              }
            },
            {
              "data": {"values": [{"name": "EA4283"}]},
              "mark": {"type": "rule", "color": "#333", "strokeWidth": 1},
              "encoding": {
                "x": {"datum": 2664, "type": "quantitative", "scale": {"domain": [0, 5000], "nice": false, "zero": false}, "axis": null},
                "x2": {"datum": 5000},
                "y": {"datum": 0.44, "type": "quantitative", "scale": {"domain": [-0.568, 12.673], "reverse": true, "nice": false, "zero": false}, "axis": null}
              }
            },
            {
              "data": {"values": [{"name": "EA4283"}]},
              "mark": {"type": "text", "font": "Liberation Serif", "fontSize": 24, "color": "#000", "align": "center", "baseline": "middle"},
              "encoding": {
                "text": {"field": "name"},
                "x": {"datum": 3832, "type": "quantitative", "scale": {"domain": [0, 5000], "nice": false, "zero": false}, "axis": null},
                "y": {"datum": 0, "type": "quantitative", "scale": {"domain": [-0.568, 12.673], "reverse": true, "nice": false, "zero": false}, "axis": null}
              }
            },
            {
              "data": {"values": [
                {"k": 1, "name": "Entries", "val": "3590"},
                {"k": 2, "name": "Mean x", "val": "1128"},
                {"k": 3, "name": "Mean y", "val": "0.03962"},
                {"k": 4, "name": "Std Dev x", "val": "665"},
                {"k": 5, "name": "Std Dev y", "val": "0.02681"},
                {"k": 6, "name": "χ² / ndf", "val": "3.394e+04 / 518"},
                {"k": 7, "name": "p0", "val": "4.609 ± 0.07513"},
                {"k": 8, "name": "p1", "val": "0.0304 ± 0.0004368"}
              ]},
              "layer": [
                {
                  "mark": {"type": "text", "font": "Liberation Serif", "fontSize": 20, "color": "#000", "align": "left", "baseline": "middle"},
                  "encoding": {
                    "text": {"field": "name"},
                    "x": {"datum": 2775, "type": "quantitative", "scale": {"domain": [0, 5000], "nice": false, "zero": false}, "axis": null},
                    "y": {"field": "k", "type": "quantitative", "scale": {"domain": [-0.568, 12.673], "reverse": true, "nice": false, "zero": false}, "axis": null}
                  }
                },
                {
                  "mark": {"type": "text", "font": "Liberation Serif", "fontSize": 20, "color": "#000", "align": "right", "baseline": "middle"},
                  "encoding": {
                    "text": {"field": "val"},
                    "x": {"datum": 4887, "type": "quantitative", "scale": {"domain": [0, 5000], "nice": false, "zero": false}, "axis": null},
                    "y": {"field": "k", "type": "quantitative", "scale": {"domain": [-0.568, 12.673], "reverse": true, "nice": false, "zero": false}, "axis": null}
                  }
                }
              ]
            }
          ]
        }
      ],
      "resolve": {"scale": {"y": "independent"}, "axis": {"x": "independent", "y": "independent"}}
    },
    {
      "width": 37,
      "height": 380,
      "data": {"values": [
        {"lo": 0, "hi": 4.56}, {"lo": 4.56, "hi": 9.12}, {"lo": 9.12, "hi": 13.68}, {"lo": 13.68, "hi": 18.24},
        {"lo": 18.24, "hi": 22.8}, {"lo": 22.8, "hi": 27.36}, {"lo": 27.36, "hi": 31.92}, {"lo": 31.92, "hi": 36.48},
        {"lo": 36.48, "hi": 41.04}, {"lo": 41.04, "hi": 45.6}, {"lo": 45.6, "hi": 50.16}, {"lo": 50.16, "hi": 54.72},
        {"lo": 54.72, "hi": 59.28}, {"lo": 59.28, "hi": 63.84}, {"lo": 63.84, "hi": 68.4}, {"lo": 68.4, "hi": 72.96},
        {"lo": 72.96, "hi": 77.52}, {"lo": 77.52, "hi": 82.08}, {"lo": 82.08, "hi": 86.64}, {"lo": 86.64, "hi": 91.2}
      ]},
      "mark": {"type": "rect", "strokeWidth": 0},
      "encoding": {
        "y": {
          "field": "lo", "type": "quantitative",
          "scale": {"domain": [0, 91.2], "nice": false, "zero": false},
          "axis": {
            "orient": "right",
            "values": [0, 10, 20, 30, 40, 50, 60, 70, 80, 90],
            "format": "d", "title": null,
            "labelFont": "Liberation Serif", "labelFontSize": 26, "labelColor": "#000",
            "labelPadding": 25, "labelOverlap": false, "labelFlush": false, "labelBound": false,
            "tickSize": -19, "tickColor": "#000", "tickWidth": 1, "domain": false, "grid": false
          }
        },
        "y2": {"field": "hi"},
        "color": {
          "field": "lo", "type": "quantitative",
          "scale": {
            "type": "threshold",
            "domain": [4.56, 9.12, 13.68, 18.24, 22.8, 27.36, 31.92, 36.48, 41.04, 45.6, 50.16, 54.72, 59.28, 63.84, 68.4, 72.96, 77.52, 82.08, 86.64],
            "range": ["#6600ff", "#3300ff", "#0020ff", "#0050ff", "#0090ff", "#00c0ff", "#00ffff", "#00ffc0", "#00ff88", "#00ff55", "#00ff10", "#33ff00", "#77ff00", "#aaff00", "#e6ff00", "#ffe600", "#ffa500", "#ff7000", "#ff3300", "#ff0000"]
          },
          "legend": null
        }
      }
    }
  ]
}
